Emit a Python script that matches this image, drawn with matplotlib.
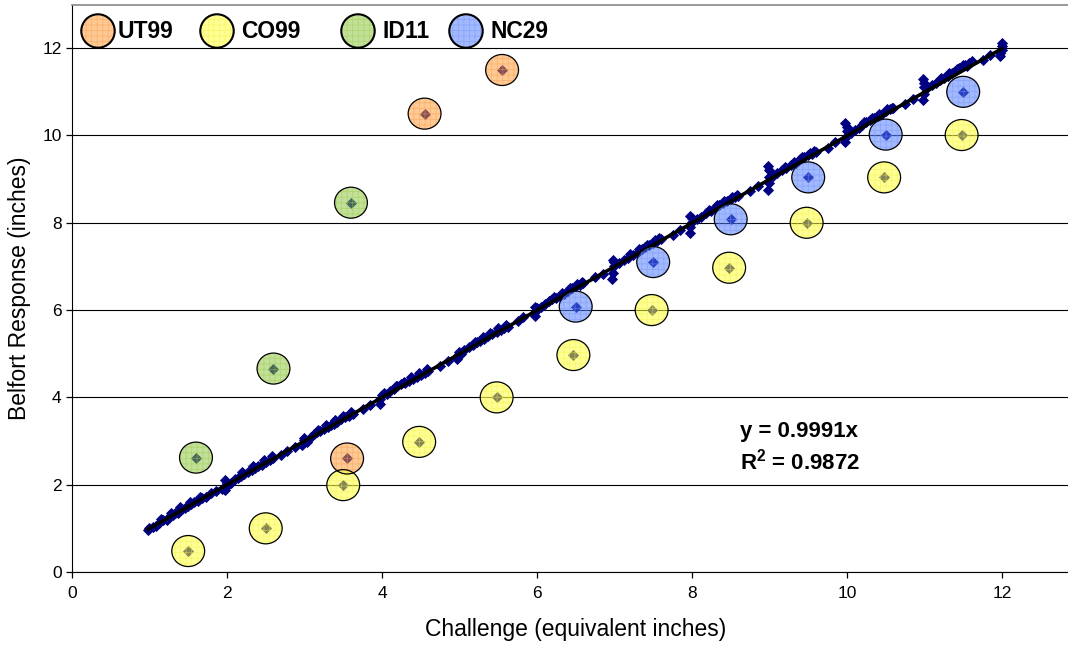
import matplotlib
matplotlib.use("Agg")
import matplotlib.pyplot as plt
import matplotlib.transforms as mtransforms
from matplotlib.path import Path

plt.rcParams["font.family"] = ["Liberation Sans", "DejaVu Sans"]
plt.rcParams["mathtext.fontset"] = "custom"
plt.rcParams["mathtext.rm"] = "Liberation Sans"
plt.rcParams["mathtext.bf"] = "Liberation Sans:bold"

# Belfort gauge readings vs. challenge (inches) - main population
belfort_x = [
    0.98, 1.00, 1.04, 1.08, 1.12, 1.17, 1.22, 1.25, 1.30, 1.33, 1.37, 1.42, 1.46, 1.50,
    1.54, 1.58, 1.62, 1.68, 1.73, 1.80, 1.86, 1.93,
    1.98, 2.00, 2.00, 1.98,
    2.05, 2.10, 2.14, 2.18, 2.22, 2.27, 2.32, 2.36, 2.40, 2.45, 2.50, 2.55, 2.60, 2.70,
    2.78, 2.88,
    2.97, 3.00, 3.00, 3.03,
    3.08, 3.12, 3.16, 3.20, 3.25, 3.30, 3.34, 3.38, 3.42, 3.47, 3.52, 3.57, 3.62, 3.75, 3.85,
    3.97, 3.98, 4.00, 4.02,
    4.06, 4.10, 4.15, 4.20, 4.25, 4.30, 4.35, 4.40, 4.45, 4.50, 4.55, 4.60, 4.75, 4.85,
    4.97, 4.98, 5.00, 5.02,
    5.06, 5.12, 5.18, 5.22, 5.27, 5.32, 5.37, 5.42, 5.48, 5.53, 5.58, 5.62, 5.75, 5.82,
    5.97, 5.98, 6.00, 5.98,
    6.05, 6.10, 6.15, 6.20, 6.25, 6.30, 6.35, 6.40, 6.45, 6.50, 6.55, 6.60, 6.75, 6.85,
    6.97, 6.98, 7.00, 7.00, 6.98,
    7.06, 7.12, 7.18, 7.24, 7.30, 7.35, 7.40, 7.45, 7.50, 7.55, 7.60, 7.75, 7.85,
    7.97, 7.98, 8.00, 8.00, 7.98,
    8.06, 8.12, 8.18, 8.24, 8.30, 8.35, 8.40, 8.45, 8.50, 8.55, 8.60, 8.75, 8.85,
    8.98, 8.99, 9.00, 9.00, 8.98,
    9.05, 9.10, 9.16, 9.22, 9.28, 9.34, 9.40, 9.45, 9.50, 9.55, 9.60, 9.75, 9.85,
    9.97, 9.98, 10.00, 10.00, 9.97,
    10.05, 10.10, 10.15, 10.20, 10.25, 10.30, 10.35, 10.40, 10.45, 10.50, 10.55, 10.60,
    10.75, 10.85,
    10.98, 10.99, 11.00, 11.00, 10.98,
    11.05, 11.10, 11.15, 11.20, 11.25, 11.30, 11.35, 11.40, 11.45, 11.50, 11.55, 11.62,
    11.75, 11.85,
    11.98, 12.00, 12.00, 12.00, 11.98,
    # second reading pass, sits a little above the fit
    1.15, 1.28, 1.40, 1.52, 1.65, 2.20, 2.34, 2.48, 2.58, 3.18, 3.28, 3.40, 3.50, 3.60,
    4.18, 4.28, 4.38, 4.48, 4.58, 5.20, 5.30, 5.40, 5.50, 5.60, 6.22, 6.32, 6.42, 6.52,
    6.58, 7.20, 7.32, 7.42, 7.52, 7.58, 8.22, 8.32, 8.42, 8.52, 8.58, 9.20, 9.32, 9.42,
    9.52, 9.58, 10.22, 10.32, 10.42, 10.52, 10.58, 11.22, 11.32, 11.42, 11.52, 11.58,
]
belfort_y = [
    0.97, 1.01, 1.02, 1.06, 1.12, 1.18, 1.20, 1.27, 1.30, 1.35, 1.36, 1.44, 1.47, 1.52,
    1.55, 1.60, 1.63, 1.70, 1.72, 1.82, 1.85, 1.90,
    1.88, 1.97, 2.05, 2.10,
    2.04, 2.12, 2.15, 2.20, 2.25, 2.28, 2.33, 2.38, 2.42, 2.46, 2.52, 2.56, 2.61, 2.68,
    2.77, 2.87,
    2.92, 3.02, 3.08, 2.98,
    3.10, 3.15, 3.20, 3.22, 3.28, 3.32, 3.37, 3.40, 3.44, 3.50, 3.54, 3.58, 3.62, 3.74, 3.83,
    3.85, 3.96, 4.05, 4.10,
    4.08, 4.14, 4.20, 4.25, 4.30, 4.33, 4.38, 4.42, 4.47, 4.52, 4.56, 4.60, 4.72, 4.83,
    4.87, 4.97, 5.05, 5.00,
    5.08, 5.15, 5.20, 5.26, 5.30, 5.34, 5.40, 5.45, 5.50, 5.55, 5.60, 5.62, 5.76, 5.83,
    5.86, 5.95, 6.05, 6.08,
    6.06, 6.14, 6.20, 6.25, 6.28, 6.32, 6.37, 6.44, 6.50, 6.55, 6.58, 6.62, 6.76, 6.82,
    6.72, 6.85, 7.00, 7.10, 7.15,
    7.08, 7.14, 7.20, 7.26, 7.34, 7.40, 7.44, 7.48, 7.54, 7.58, 7.62, 7.72, 7.84,
    7.77, 7.90, 8.02, 8.10, 8.15,
    8.08, 8.14, 8.22, 8.28, 8.34, 8.40, 8.45, 8.50, 8.55, 8.58, 8.62, 8.72, 8.84,
    8.76, 8.90, 9.05, 9.20, 9.30,
    9.08, 9.14, 9.20, 9.26, 9.32, 9.38, 9.45, 9.50, 9.55, 9.58, 9.62, 9.72, 9.84,
    9.84, 9.95, 10.10, 10.20, 10.28,
    10.06, 10.12, 10.18, 10.24, 10.30, 10.35, 10.40, 10.45, 10.50, 10.55, 10.60, 10.63,
    10.72, 10.84,
    10.82, 10.95, 11.10, 11.20, 11.30,
    11.10, 11.15, 11.20, 11.26, 11.32, 11.36, 11.42, 11.48, 11.55, 11.62, 11.60, 11.70,
    11.74, 11.84,
    11.82, 11.95, 12.05, 12.12, 11.88,
    1.22, 1.36, 1.48, 1.60, 1.72, 2.28, 2.42, 2.56, 2.66, 3.26, 3.36, 3.48, 3.58, 3.66,
    4.26, 4.36, 4.46, 4.56, 4.64, 5.28, 5.38, 5.48, 5.58, 5.66, 6.30, 6.40, 6.50, 6.60,
    6.64, 7.28, 7.40, 7.50, 7.60, 7.64, 8.30, 8.40, 8.50, 8.60, 8.64, 9.28, 9.40, 9.50,
    9.60, 9.64, 10.30, 10.40, 10.50, 10.60, 10.64, 11.32, 11.42, 11.52, 11.62, 11.66,
]

# flagged units
ut99_x = [3.55, 4.55, 5.55]
ut99_y = [2.60, 10.50, 11.50]
co99_x = [1.50, 2.50, 3.50, 4.48, 5.48, 6.47, 7.48, 8.48, 9.48, 10.48, 11.48]
co99_y = [0.48, 1.00, 1.99, 2.98, 4.00, 4.97, 6.00, 6.97, 8.00, 9.04, 10.01]
id11_x = [1.60, 2.60, 3.60]
id11_y = [2.62, 4.66, 8.46]
nc29_x = [6.50, 7.50, 8.50, 9.50, 10.50, 11.50]
nc29_y = [6.08, 7.10, 8.08, 9.04, 10.02, 11.00]

units = ["UT99", "CO99", "ID11", "NC29"]
unit_colors = ["#FF9933", "#FFFF33", "#8CC43C", "#4D7AFF"]
hatch_colors = ["#F5A050", "#F0F050", "#9CCB50", "#7896F5"]

# trendline through origin
slope = 0.9991
r_squared = 0.9872

NAVY = "#000080"


def ring_marker(stretch):
    return Path.unit_circle().transformed(mtransforms.Affine2D().scale(stretch, 1.0))


def draw_ring(ax, xs, ys, face, hatch_col, size, lw, stretch=1.1,
              transform=None, zorder=5):
    kw = {} if transform is None else {"transform": transform}
    marker = ring_marker(stretch)
    with plt.rc_context({"hatch.color": hatch_col, "hatch.linewidth": 0.6}):
        ax.scatter(xs, ys, s=size, marker=marker, facecolor=face, alpha=0.52,
                   edgecolor=hatch_col, linewidth=0, hatch="+++", zorder=zorder,
                   clip_on=False, **kw)
    ax.scatter(xs, ys, s=size, marker=marker, facecolor="none",
               edgecolor="black", linewidth=lw, zorder=zorder + 0.1, clip_on=False, **kw)


fig = plt.figure(figsize=(10.68, 6.45), dpi=100)
ax = fig.add_axes([0.0674, 0.1132, 0.9433, 0.8798])

# all readings as navy diamonds
all_x = belfort_x + ut99_x + co99_x + id11_x + nc29_x
all_y = belfort_y + ut99_y + co99_y + id11_y + nc29_y
ax.plot(all_x, all_y, linestyle="none", marker="D", markersize=5.4, color=NAVY,
        markeredgewidth=0.6, zorder=3)

# linear fit
x0, x1 = min(all_x), max(all_x)
ax.plot([x0, x1], [slope * x0, slope * x1], color="black", linewidth=2.6, zorder=4)

# circled units
groups = [(ut99_x, ut99_y), (co99_x, co99_y), (id11_x, id11_y), (nc29_x, nc29_y)]
for (gx, gy), col, hcol in zip(groups, unit_colors, hatch_colors):
    draw_ring(ax, gx, gy, col, hcol, size=560, lw=0.9, stretch=1.06)

ax.text(8.62, 3.21, f"y = {slope:.4f}x", fontsize=16, fontweight="bold",
        ha="left", va="center")
ax.text(8.62, 2.52, f"R$^\\mathbf{{2}}$ = {r_squared:.4f}", fontsize=16,
        fontweight="bold", ha="left", va="center")

ax.set_xlim(0, 13)
ax.set_ylim(0, 13)
ax.set_xticks(range(0, 13, 2))
ax.set_yticks(range(0, 13, 2))
ax.tick_params(axis="both", direction="out", length=4, width=0.9, labelsize=12.5,
               colors="black")
ax.tick_params(axis="x", pad=6)
ax.yaxis.grid(True, color="black", linewidth=0.8)
ax.set_axisbelow(True)

ax.spines["left"].set_color("black")
ax.spines["bottom"].set_color("black")
ax.spines["top"].set_color("#888888")
ax.spines["top"].set_linewidth(1.2)
ax.spines["right"].set_visible(False)

ax.set_xlabel("Challenge (equivalent inches)", fontsize=16.5, labelpad=12)
ax.set_ylabel("Belfort Response (inches)", fontsize=16.5, labelpad=8)

# legend row along the top
legend_ring_x = [98, 217, 358, 466]
legend_text_x = [118, 241, 382, 490]
legend_y = 1 - 31 / 645
for name, col, hcol, rx, tx in zip(units, unit_colors, hatch_colors,
                                   legend_ring_x, legend_text_x):
    draw_ring(ax, [rx / 1068], [legend_y], col, hcol, size=580, lw=1.5, stretch=1.0,
              transform=fig.transFigure, zorder=6)
    fig.text(tx / 1068, legend_y, name, fontsize=16.5, fontweight="bold",
             ha="left", va="center")

fig.savefig("out.png", dpi=100)
